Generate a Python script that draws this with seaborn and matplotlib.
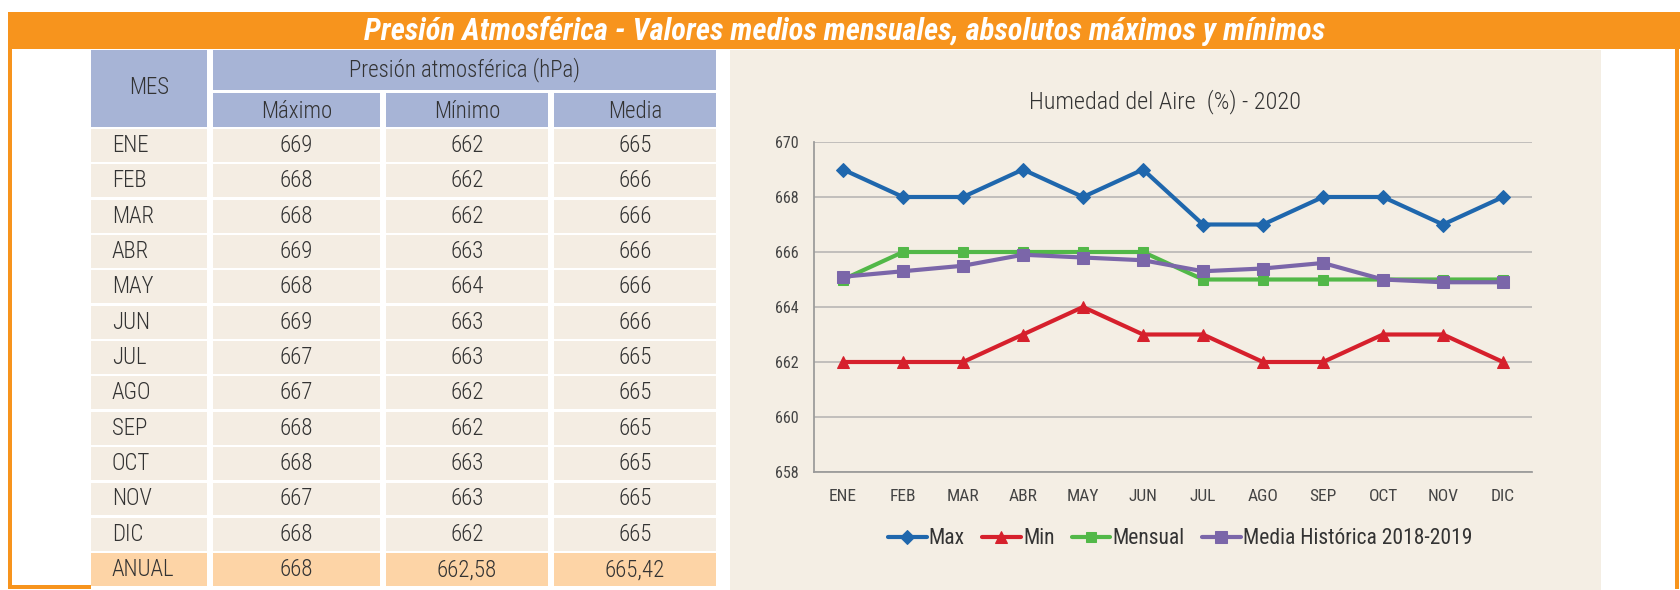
import matplotlib
matplotlib.use("Agg")
import matplotlib.pyplot as plt
from matplotlib.patches import Rectangle
from matplotlib.transforms import ScaledTranslation
import numpy as np
import seaborn as sns

# ---------------- DATA ----------------
months = ["ENE", "FEB", "MAR", "ABR", "MAY", "JUN",
          "JUL", "AGO", "SEP", "OCT", "NOV", "DIC"]
pres_max = [669, 668, 668, 669, 668, 669, 667, 667, 668, 668, 667, 668]
pres_min = [662, 662, 662, 663, 664, 663, 663, 662, 662, 663, 663, 662]
pres_media = [665, 666, 666, 666, 666, 666, 665, 665, 665, 665, 665, 665]
media_hist = [665.1, 665.3, 665.5, 665.9, 665.8, 665.7,
              665.3, 665.4, 665.6, 665.0, 664.9, 664.9]
anual = ["668", "662,58", "665,42"]
y_ticks = [658, 660, 662, 664, 666, 668, 670]

ORANGE = "#F7941D"
HEAD = "#A7B4D6"
ROW = "#F4EDE3"
ANUAL_BG = "#FDD4A6"
PANEL = "#F4EEE4"
TXT = "#333333"

sns.set_theme(style="white")
plt.rcParams["font.family"] = ["Roboto Condensed", "Archivo Narrow", "DejaVu Sans"]

W, H = 1681, 590
fig = plt.figure(figsize=(W / 100, H / 100), dpi=100)
fig.patch.set_facecolor("white")

bg = fig.add_axes([0, 0, 1, 1])
bg.set_xlim(0, W)
bg.set_ylim(H, 0)
bg.axis("off")


def box(x0, y0, x1, y1, color):
    bg.add_patch(Rectangle((x0, y0), x1 - x0, y1 - y0,
                           facecolor=color, edgecolor="none"))


# ---------------- FRAME + BANNER ----------------
box(8, 12, W, 49, ORANGE)
box(8, 49, 12, 589, ORANGE)
box(8, 585, 91, 589, ORANGE)
box(1675, 49, 1679, 589, ORANGE)
bg.text(845, 31, "Presión Atmosférica - Valores medios mensuales, absolutos máximos y mínimos",
        color="white", fontsize=22, fontweight="bold", fontstyle="italic",
        ha="center", va="center")

# ---------------- TABLE ----------------
cols = [(91, 207), (213, 380), (386, 548), (554, 716)]
FS = 16.5
box(cols[0][0], 50, cols[0][1], 127, HEAD)
box(cols[1][0], 50, cols[3][1], 90, HEAD)
for (x0, x1), name in zip(cols[1:], ["Máximo", "Mínimo", "Media"]):
    box(x0, 93, x1, 127, HEAD)
    bg.text((x0 + x1) / 2, 111, name, fontsize=FS, color=TXT,
            ha="center", va="center", fontweight="light")
bg.text(149, 88, "MES", fontsize=FS, color=TXT, ha="center", va="center",
        fontweight="light")
bg.text((cols[1][0] + cols[3][1]) / 2, 70, "Presión atmosférica (hPa)",
        fontsize=FS, color=TXT, ha="center", va="center", fontweight="light")

row_h = 35.35
rows = [(m, str(a), str(b), str(c))
        for m, a, b, c in zip(months, pres_max, pres_min, pres_media)]
rows.append(("ANUAL", *anual))
for i, r in enumerate(rows):
    y0 = 129 + i * row_h
    color = ANUAL_BG if r[0] == "ANUAL" else ROW
    for j, (x0, x1) in enumerate(cols):
        box(x0, y0, x1, y0 + row_h - 2.5, color)
        yc = y0 + (row_h - 2.5) / 2
        if j == 0:
            bg.text(112, yc, r[0], fontsize=FS, color=TXT, ha="left",
                    va="center", fontweight="light")
        else:
            bg.text((x0 + x1) / 2, yc, r[j], fontsize=FS, color=TXT,
                    ha="center", va="center", fontweight="light")

# ---------------- CHART PANEL ----------------
box(730, 50, 1601, 590, PANEL)
bg.text(1165, 102, "Humedad del Aire  (%) - 2020", fontsize=17.5, color=TXT,
        ha="center", va="center", fontweight="light")

ax = fig.add_axes([814 / W, (H - 472) / H, 718 / W, 330 / H])
ax.set_facecolor("none")

x = np.arange(len(months))
series = [
    ("Max", pres_max, "#1F67AD", "D", 7),
    ("Min", pres_min, "#D6202C", "^", 8),
    ("Mensual", pres_media, "#52B848", "s", 7),
    ("Media Histórica 2018-2019", media_hist, "#7B66A9", "s", 9),
]
for name, vals, color, mk, ms in series:
    sns.lineplot(x=x, y=vals, ax=ax, color=color, marker=mk, markersize=ms,
                 markeredgecolor=color, linewidth=3, label=name)

ax.set_xlim(-29 / 60, 11 + 29 / 60)
ax.set_ylim(658, 670)
ax.set_yticks(y_ticks)
ax.set_yticklabels([str(v) for v in y_ticks], fontsize=11.5, color="#444444")
ax.set_xticks(x)
ax.set_xticklabels(months, fontsize=12.5, color="#444444")
shift = ScaledTranslation(6 / 100, 0, fig.dpi_scale_trans)
for lab in ax.get_xticklabels():
    lab.set_transform(lab.get_transform() + shift)
ax.tick_params(axis="x", pad=12, length=0)
ax.tick_params(axis="y", pad=11, length=0)
ax.grid(axis="y", color="#BDBBB8", linewidth=1.3)
ax.set_axisbelow(True)
for s in ["top", "right"]:
    ax.spines[s].set_visible(False)
ax.spines["left"].set_color("#999999")
ax.spines["bottom"].set_color("#999999")
ax.set_xlabel("")
ax.set_ylabel("")

ax.legend(loc="center", bbox_to_anchor=((1180 - 814) / 718, -(539 - 472) / 330),
          ncol=4, frameon=False, fontsize=15.5, handlelength=1.8,
          handletextpad=0.1, columnspacing=0.8, labelcolor="#333333")

fig.savefig("out.png", dpi=100, facecolor="white")
